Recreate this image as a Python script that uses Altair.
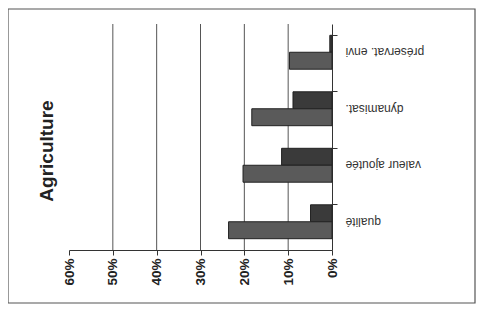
import altair as alt
import pandas as pd

categories = ["préservat. envi", "dynamisat.", "valeur ajoutée", "qualité"]
series_1 = [0.005, 0.089, 0.115, 0.049]   # upper (darker) bars
series_2 = [0.097, 0.183, 0.203, 0.236]   # lower bars
series_names = ["série 1", "série 2"]
tick_values = [0, 0.1, 0.2, 0.3, 0.4, 0.5, 0.6]
grid_values = [0.1, 0.2, 0.3, 0.4, 0.5]
title_text = "Agriculture"

rows = []
for c, a, b in zip(categories, series_1, series_2):
    rows.append({"cat": c, "serie": series_names[0], "val": a})
    rows.append({"cat": c, "serie": series_names[1], "val": b})
df = pd.DataFrame(rows)

W, H = 263, 226
FONT = "Liberation Sans"

xscale = alt.Scale(domain=[0, 0.6], reverse=True, nice=False)

frame = alt.Chart(alt.Data(values=[{"f": 1}])).mark_rect(
    fill=None, stroke="#555555", strokeWidth=1.2
).encode(
    x=alt.value(-61), x2=alt.value(406), y=alt.value(-15), y2=alt.value(279)
)

title = alt.Chart(alt.Data(values=[{"t": title_text}])).mark_text(
    angle=270, align="center", baseline="middle", fontSize=19,
    fontWeight="bold", font=FONT, color="#222222"
).encode(x=alt.value(-22), y=alt.value(127), text="t:N")

grid = alt.Chart(pd.DataFrame({"g": grid_values})).mark_rule(
    color="#555555", strokeWidth=1
).encode(x=alt.X("g:Q", scale=xscale))

bars = alt.Chart(df).mark_bar(stroke="#222222", strokeWidth=1).encode(
    y=alt.Y(
        "cat:N",
        sort=categories,
        scale=alt.Scale(paddingInner=0.4, paddingOuter=0.2),
        axis=alt.Axis(
            orient="right", title=None, labelAngle=180, labelAlign="right",
            labelBaseline="middle", labelFontSize=12, labelFont=FONT,
            labelColor="#333333", labelPadding=8, tickSize=5, bandPosition=0,
            tickColor="#333333", domainColor="#333333",
        ),
    ),
    yOffset=alt.YOffset("serie:N", sort=series_names),
    x=alt.X(
        "val:Q",
        scale=xscale,
        axis=alt.Axis(
            values=tick_values, format=".0%", labelAngle=-90, title=None,
            labelFontSize=13.5, labelFontWeight="bold", labelFont=FONT,
            labelColor="#222222", grid=False, tickSize=5, labelPadding=3,
            tickColor="#333333", domainColor="#333333",
        ),
    ),
    color=alt.Color(
        "serie:N",
        scale=alt.Scale(domain=series_names, range=["#3a3a3a", "#5a5a5a"]),
        legend=None,
    ),
)

chart = alt.layer(frame, title, grid, bars).properties(
    width=W,
    height=H,
    autosize=alt.AutoSizeParams(type="none"),
    padding={"left": 61, "top": 16, "right": 144, "bottom": 56},
).configure(background="white").configure_view(stroke=None)

chart.save("out.html", embed_options={"renderer": "svg", "actions": False})
